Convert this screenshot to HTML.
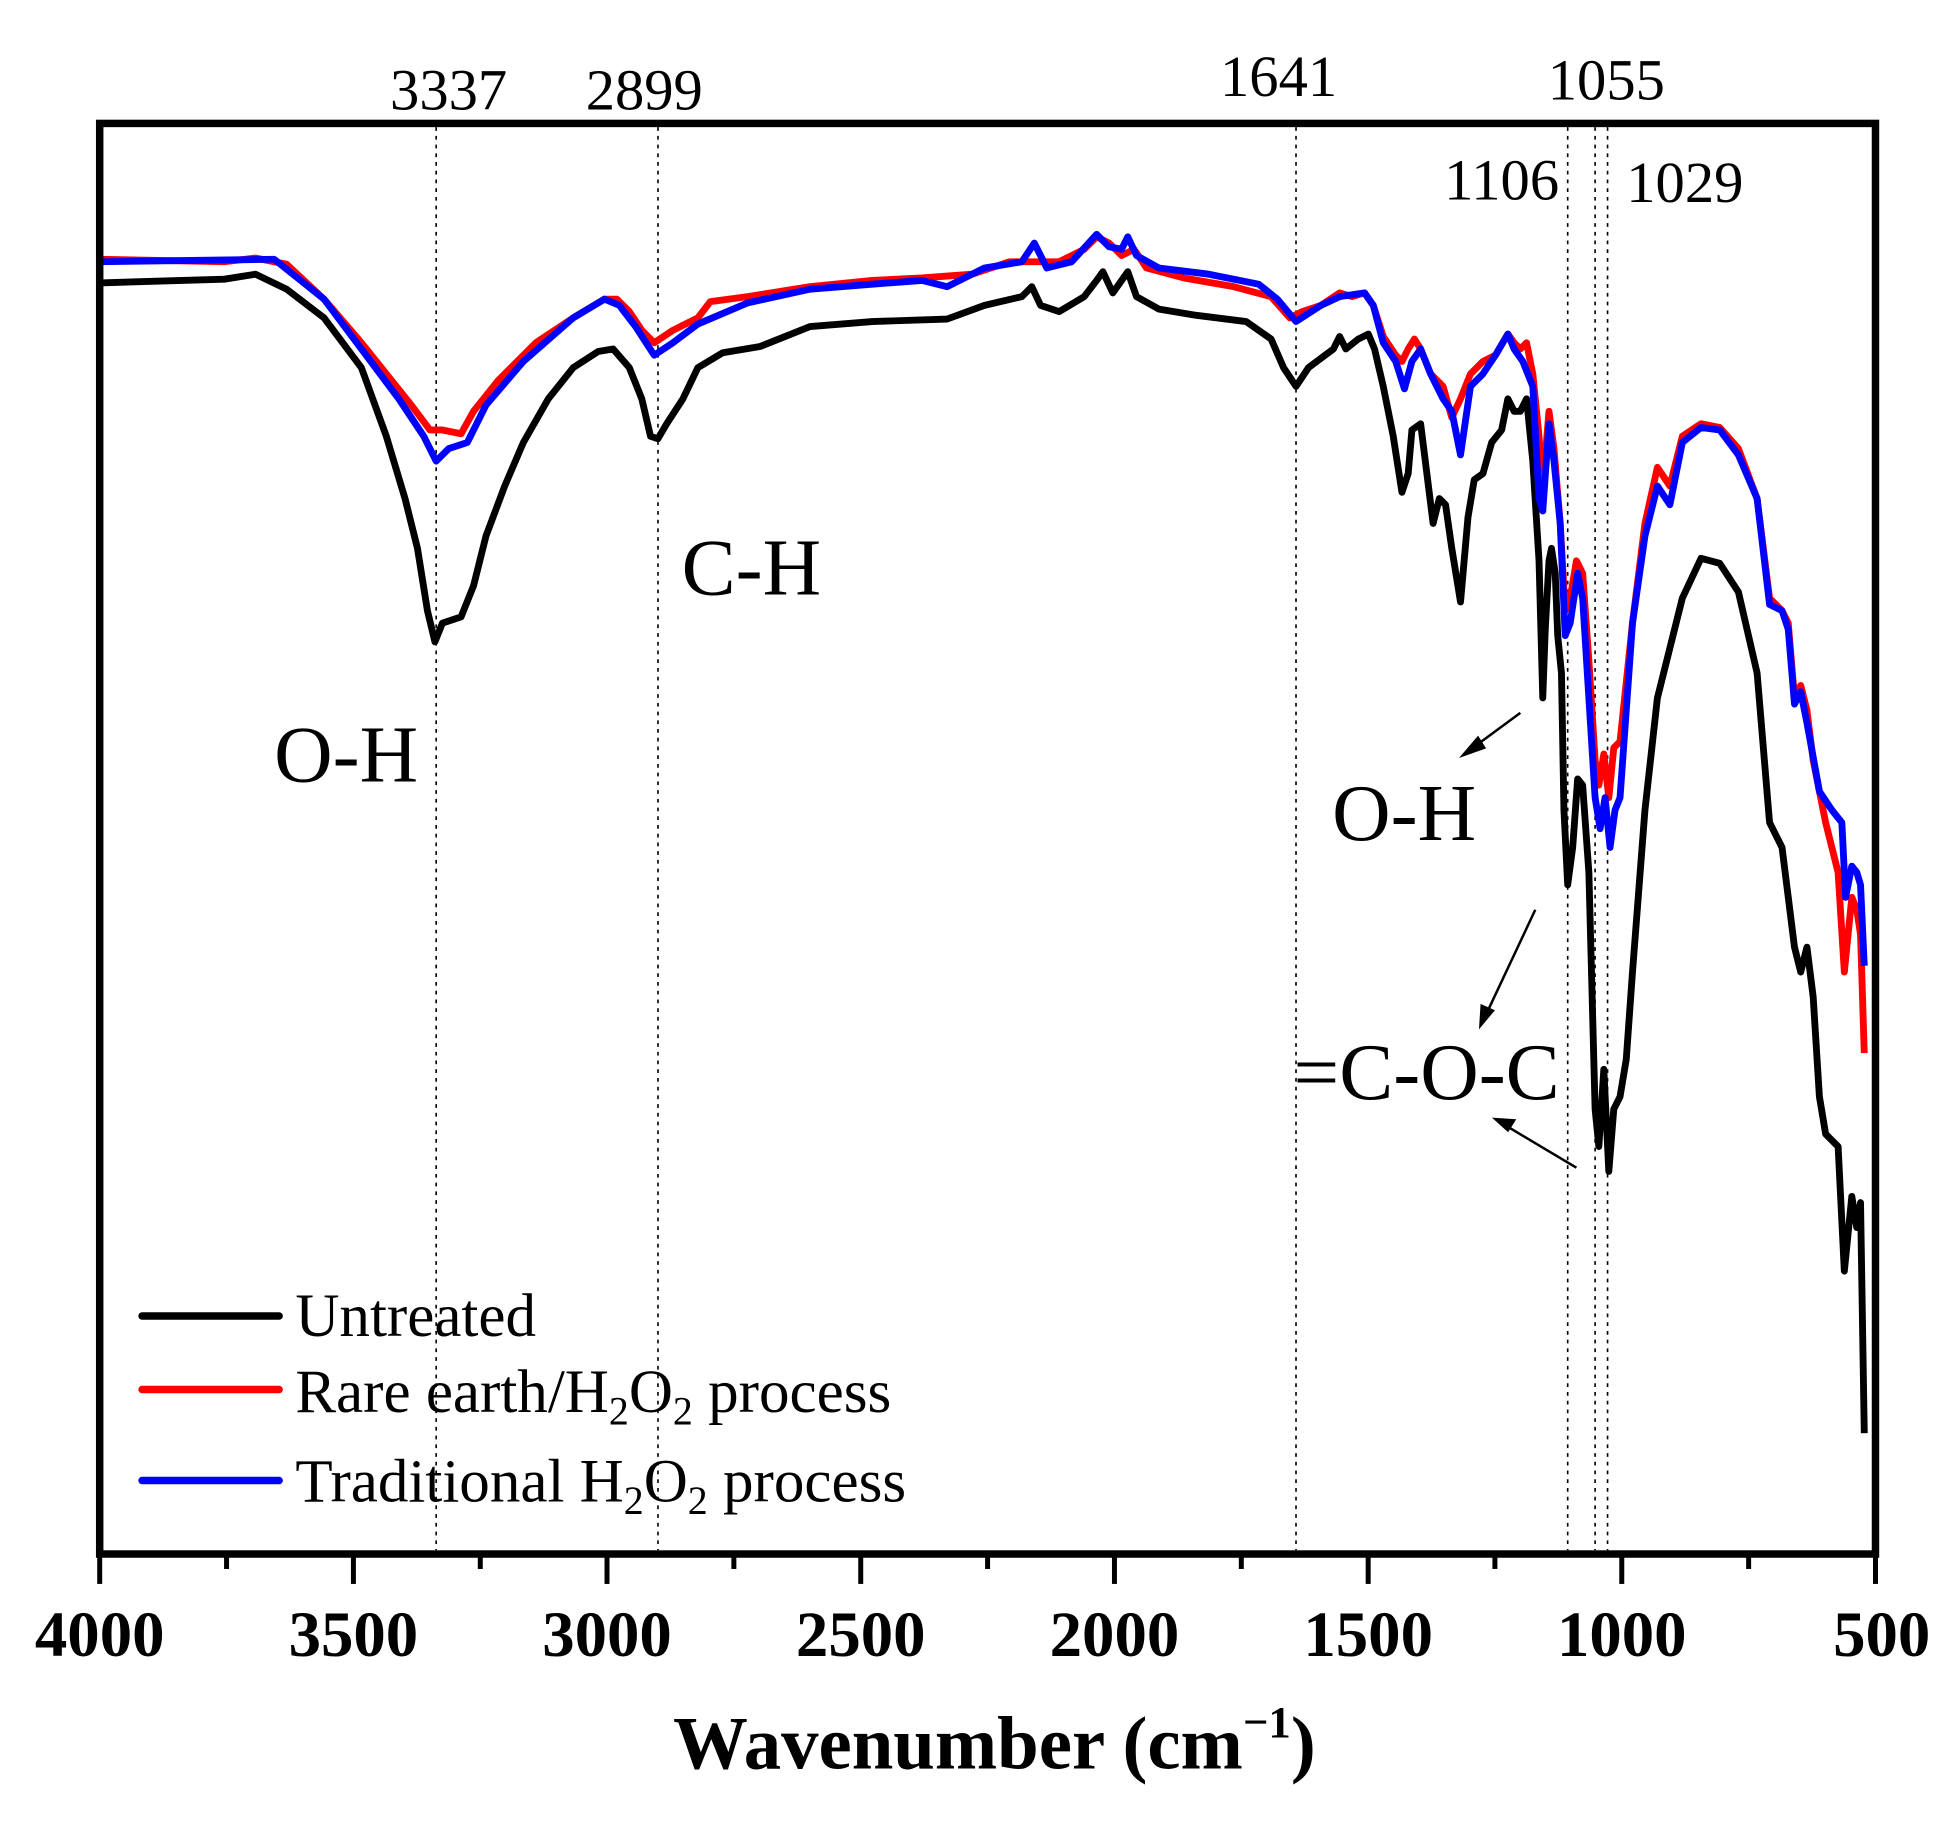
<!DOCTYPE html>
<html><head><meta charset="utf-8"><style>html,body{margin:0;padding:0;background:#fff}svg{display:block}</style></head>
<body>
<svg width="1954" height="1822" viewBox="0 0 1568 1462" xmlns="http://www.w3.org/2000/svg" font-family="'Liberation Serif', serif">
<rect width="1568" height="1462" fill="#fff"/>
<g stroke="#000" stroke-width="1.3" stroke-dasharray="3,4">
<line x1="350" y1="102" x2="350" y2="1244"/>
<line x1="528" y1="102" x2="528" y2="1244"/>
<line x1="1040" y1="102" x2="1040" y2="1244"/>
<line x1="1258" y1="102" x2="1258" y2="1244"/>
<line x1="1280" y1="102" x2="1280" y2="1244"/>
<line x1="1290" y1="102" x2="1290" y2="1244"/>
</g>
<g fill="none" stroke-width="5.5" stroke-linejoin="round">
<polyline stroke="#000" points="80,227 180,224 205,220 230,232 260,255 290,295 310,350 325,400 335,440 343,490 349,515 355,500 370,495 380,470 390,430 405,390 420,355 440,320 460,295 480,282 492,280 505,295 515,320 522,350 528,352 535,340 548,320 560,295 580,283 610,278 650,262 700,258 760,256 790,245 820,238 828,230 835,245 850,250 870,238 880,225 885,218 893,235 905,218 912,238 930,248 960,253 1000,258 1020,272 1030,295 1040,310 1050,295 1070,280 1075,270 1080,280 1090,272 1098,268 1103,280 1110,310 1118,350 1125,395 1130,380 1133,345 1140,340 1145,380 1150,420 1155,400 1160,405 1165,440 1172,483 1178,415 1183,385 1190,380 1197,355 1205,345 1210,320 1215,330 1220,330 1225,320 1230,370 1235,450 1238,560 1240,505 1243,450 1245,440 1248,460 1250,510 1253,540 1255,650 1258,710 1262,680 1266,625 1270,630 1275,700 1280,890 1283,920 1287,858 1291,940 1295,890 1300,880 1305,850 1310,780 1320,650 1330,560 1340,520 1350,480 1365,448 1380,452 1395,475 1410,540 1420,660 1430,680 1440,760 1445,780 1450,760 1455,800 1460,880 1465,910 1475,920 1480,1020 1486,960 1490,985 1493,965 1496,1150"/>
<polyline stroke="#f00" points="80,208 180,210 205,207 230,212 260,240 290,275 310,300 330,325 345,345 355,345 370,348 380,330 400,305 430,275 460,255 485,240 495,240 505,250 515,265 525,275 540,265 560,255 570,242 600,238 650,230 700,225 740,223 780,220 810,210 830,210 850,210 870,200 880,190 890,195 900,205 910,200 920,215 950,223 990,230 1020,238 1035,255 1045,250 1060,245 1075,235 1085,238 1095,235 1102,245 1110,270 1120,285 1125,290 1130,280 1135,272 1140,280 1148,300 1158,310 1165,335 1172,320 1180,300 1190,290 1200,285 1210,268 1215,275 1220,280 1225,275 1230,300 1235,350 1238,390 1243,330 1247,360 1252,420 1256,490 1260,480 1265,450 1270,460 1275,530 1280,610 1283,630 1287,605 1291,640 1295,600 1300,595 1310,500 1320,420 1330,375 1340,390 1350,350 1365,340 1380,343 1395,360 1410,400 1420,480 1430,490 1435,500 1440,560 1445,550 1450,570 1455,610 1465,660 1475,700 1480,780 1486,720 1490,730 1493,750 1496,845"/>
<polyline stroke="#00f" points="80,210 220,208 260,240 290,280 320,320 340,350 350,370 360,360 375,355 390,325 420,290 460,255 485,240 497,245 510,262 525,285 540,275 560,260 600,243 650,232 700,228 740,225 760,230 790,215 820,210 830,195 840,215 860,210 880,188 890,198 900,200 905,190 912,205 930,215 970,220 1010,228 1025,240 1040,258 1060,245 1075,238 1095,235 1102,245 1110,275 1120,290 1127,312 1133,290 1140,280 1148,300 1158,320 1165,330 1172,365 1180,310 1190,300 1200,285 1210,268 1215,280 1222,290 1230,310 1235,400 1238,410 1243,340 1247,370 1252,420 1256,510 1260,500 1266,460 1270,480 1275,560 1280,640 1284,665 1288,640 1292,680 1296,650 1300,640 1310,500 1320,430 1330,390 1340,405 1350,355 1365,343 1380,345 1395,365 1410,400 1420,485 1430,490 1435,505 1440,565 1445,555 1450,580 1460,635 1470,650 1478,660 1481,720 1486,695 1490,700 1493,710 1496,775"/>
</g>
<rect x="80" y="99" width="1425" height="1148" fill="none" stroke="#000" stroke-width="6"/>
<g stroke="#000" stroke-width="4">
<line x1="80" y1="1247" x2="80" y2="1271"/><line x1="283.6" y1="1247" x2="283.6" y2="1271"/><line x1="487.1" y1="1247" x2="487.1" y2="1271"/><line x1="690.7" y1="1247" x2="690.7" y2="1271"/><line x1="894.3" y1="1247" x2="894.3" y2="1271"/><line x1="1097.9" y1="1247" x2="1097.9" y2="1271"/><line x1="1301.4" y1="1247" x2="1301.4" y2="1271"/><line x1="1505" y1="1247" x2="1505" y2="1271"/>
<line x1="181.8" y1="1247" x2="181.8" y2="1259"/><line x1="385.4" y1="1247" x2="385.4" y2="1259"/><line x1="588.9" y1="1247" x2="588.9" y2="1259"/><line x1="792.5" y1="1247" x2="792.5" y2="1259"/><line x1="996.1" y1="1247" x2="996.1" y2="1259"/><line x1="1199.6" y1="1247" x2="1199.6" y2="1259"/><line x1="1403.2" y1="1247" x2="1403.2" y2="1259"/>
</g>
<g font-size="52" font-weight="bold" text-anchor="middle">
<text x="80" y="1329">4000</text><text x="283.6" y="1329">3500</text><text x="487.1" y="1329">3000</text><text x="690.7" y="1329">2500</text><text x="894.3" y="1329">2000</text><text x="1097.9" y="1329">1500</text><text x="1301.4" y="1329">1000</text><text x="1510" y="1329">500</text>
</g>
<text x="798" y="1419" font-size="60" font-weight="bold" text-anchor="middle">Wavenumber (cm<tspan font-size="36" dy="-25">−1</tspan><tspan dy="25">)</tspan></text>
<g font-size="47" text-anchor="middle">
<text x="360" y="88">3337</text><text x="517" y="88">2899</text><text x="1026" y="77">1641</text><text x="1289" y="80">1055</text><text x="1205" y="160">1106</text><text x="1352" y="162">1029</text>
</g>
<g font-size="65">
<text x="220" y="627">O-H</text><text x="547" y="477">C-H</text><text x="1069" y="674">O-H</text><text x="1038" y="882">=C-O-C</text>
</g>
<g stroke="#000" stroke-width="2" fill="#000">
<line x1="1220" y1="572" x2="1182" y2="600"/><polygon points="1174,606 1186,592 1191,600"/>
<line x1="1232" y1="730" x2="1193" y2="813"/><polygon points="1188,823 1189,807 1198,811"/>
<line x1="1265" y1="937" x2="1208" y2="903"/><polygon points="1200,898 1215,899 1210,907"/>
</g>
<g stroke-width="6" stroke-linecap="round">
<line x1="114" y1="1056" x2="224" y2="1056" stroke="#000"/>
<line x1="114" y1="1115" x2="224" y2="1115" stroke="#f00"/>
<line x1="114" y1="1188" x2="224" y2="1188" stroke="#00f"/>
</g>
<g font-size="49">
<text x="237" y="1072">Untreated</text>
<text x="237" y="1133">Rare earth/H<tspan font-size="32" dy="10">2</tspan><tspan dy="-10">O</tspan><tspan font-size="32" dy="10">2</tspan><tspan dy="-10"> process</tspan></text>
<text x="237" y="1205">Traditional H<tspan font-size="32" dy="10">2</tspan><tspan dy="-10">O</tspan><tspan font-size="32" dy="10">2</tspan><tspan dy="-10"> process</tspan></text>
</g>
</svg>
</body></html>
